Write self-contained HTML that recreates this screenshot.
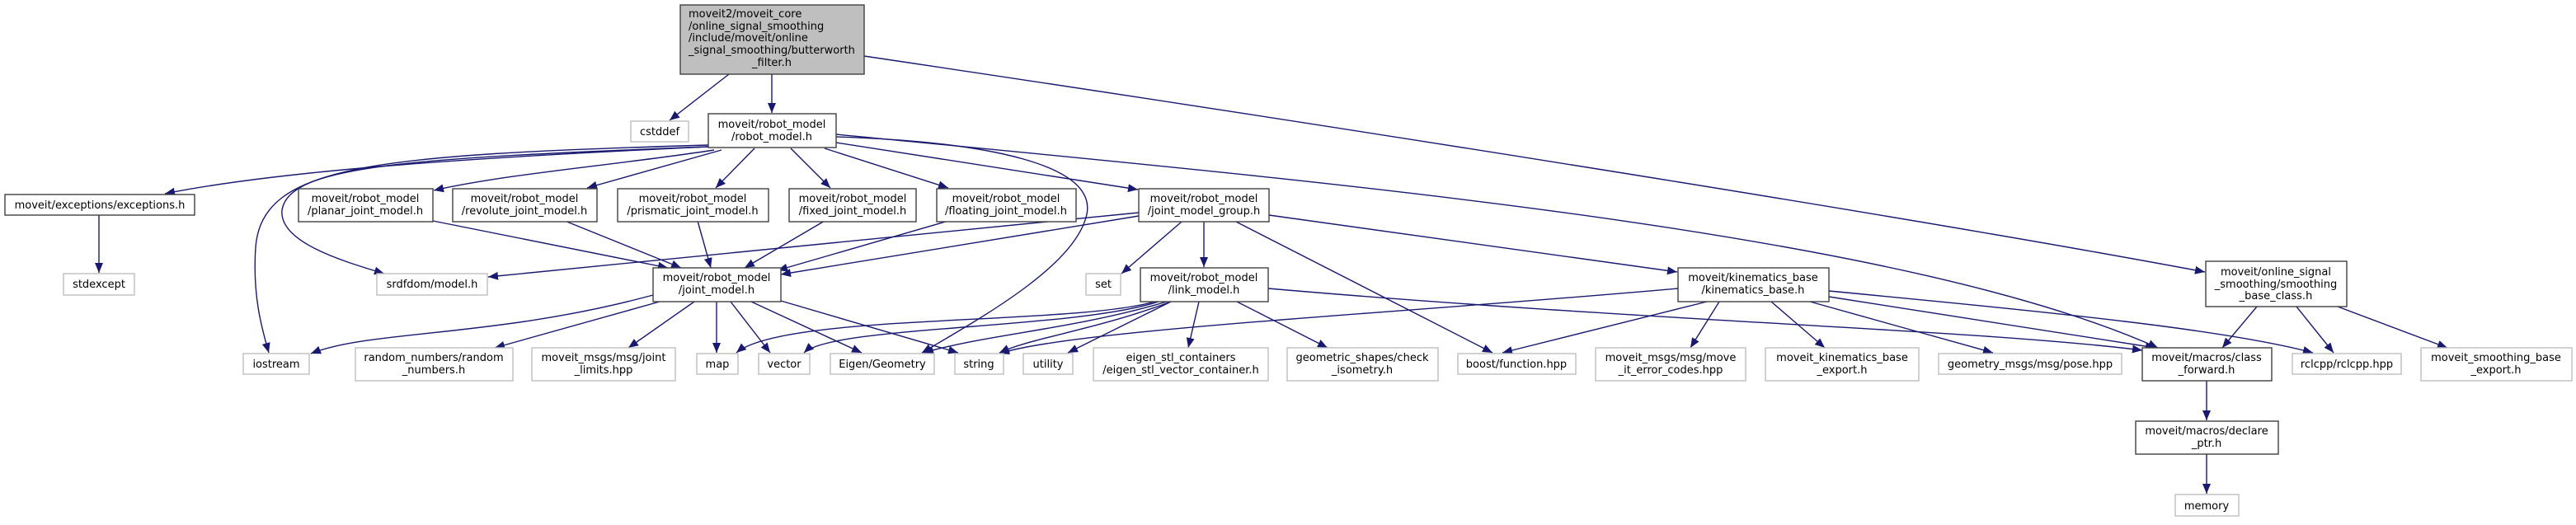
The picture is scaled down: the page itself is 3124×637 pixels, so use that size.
<!DOCTYPE html>
<html><head><meta charset="utf-8"><style>
html,body{margin:0;padding:0;background:#fff;}
svg text{font-family:"DejaVu Sans","Liberation Sans",sans-serif;font-size:13px;fill:#000;}
</style></head><body>
<svg width="3124" height="632" viewBox="0 0 3124 632" xmlns="http://www.w3.org/2000/svg">
<defs>
<marker id="a" markerUnits="userSpaceOnUse" markerWidth="14" markerHeight="12" refX="12" refY="5" orient="auto">
<path d="M0,0 L12,5 L0,10 Z" fill="#191970"/>
</marker>
</defs>
<g fill="none" stroke="#191970" stroke-width="1.4" marker-end="url(#a)">
<path d="M884,90 L812,146"/>
<path d="M936,90 L936,137"/>
<path d="M1048,68 C1600,150 2300,260 2674,330"/>
<path d="M859,178 C600,190 350,205 200,235"/>
<path d="M866,182 C750,200 620,210 526,231"/>
<path d="M875,182 L712,228"/>
<path d="M915,180 L868,228"/>
<path d="M959,180 L1007,228"/>
<path d="M1000,180 L1150,228"/>
<path d="M1014,173 L1380,230"/>
<path d="M859,178 C500,192 350,200 342,255 C338,295 420,318 466,332"/>
<path d="M859,176 C450,188 318,200 310,300 C306,360 318,400 326,428"/>
<path d="M1014,166 C1200,172 1330,200 1318,260 C1305,320 1200,380 1118,428"/>
<path d="M1014,163 C1600,220 2300,280 2617,422"/>
<path d="M120,261 L120,331"/>
<path d="M525,268 L810,325"/>
<path d="M685,268 L826,325"/>
<path d="M846,268 L862,325"/>
<path d="M1000,268 L903,325"/>
<path d="M1150,268 L943,328"/>
<path d="M1381,262 L947,333"/>
<path d="M1381,258 L592,336"/>
<path d="M1433,269 L1360,332"/>
<path d="M1460,269 L1460,324"/>
<path d="M1499,269 L1810,428"/>
<path d="M1539,261 L2034,330"/>
<path d="M792,358 C600,410 450,400 377,429"/>
<path d="M800,366 L600,422"/>
<path d="M842,366 L762,422"/>
<path d="M869,366 L869,428"/>
<path d="M886,366 L934,428"/>
<path d="M911,366 L1045,428"/>
<path d="M947,365 L1162,428"/>
<path d="M1400,366 C1300,395 950,380 893,428"/>
<path d="M1405,366 C1300,400 1010,395 975,428"/>
<path d="M1415,366 C1300,400 1200,405 1120,428"/>
<path d="M1420,366 C1330,400 1250,410 1212,428"/>
<path d="M1420,366 L1295,428"/>
<path d="M1454,366 L1441,422"/>
<path d="M1500,366 L1610,422"/>
<path d="M1538,350 C2000,390 2400,400 2598,425"/>
<path d="M2035,350 C1700,380 1300,400 1212,429"/>
<path d="M2070,366 L1822,428"/>
<path d="M2085,366 L2050,422"/>
<path d="M2148,366 L2213,422"/>
<path d="M2195,366 L2417,428"/>
<path d="M2218,360 L2614,422"/>
<path d="M2218,353 C2500,380 2700,400 2805,428"/>
<path d="M2737,372 L2695,422"/>
<path d="M2785,372 L2830,428"/>
<path d="M2835,372 L2968,422"/>
<path d="M2676,462 L2676,510"/>
<path d="M2676,551 L2676,599"/>
</g>
<g stroke-width="1.4">
<rect x="825" y="6" width="223" height="84" fill="#bfbfbf" stroke="#404040"/>
<g fill="#fff" stroke="#404040">
<rect x="859" y="138" width="155" height="41"/>
<rect x="6" y="236" width="230" height="25"/>
<rect x="362" y="229" width="163" height="40"/>
<rect x="549" y="229" width="175" height="40"/>
<rect x="749" y="229" width="183" height="40"/>
<rect x="957" y="229" width="154" height="40"/>
<rect x="1136" y="229" width="169" height="40"/>
<rect x="1381" y="229" width="158" height="40"/>
<rect x="2675" y="317" width="171" height="55"/>
<rect x="792" y="325" width="155" height="41"/>
<rect x="1383" y="325" width="155" height="41"/>
<rect x="2035" y="325" width="183" height="41"/>
<rect x="2598" y="422" width="157" height="40"/>
<rect x="2590" y="511" width="173" height="40"/>
</g>
<g fill="#fff" stroke="#bfbfbf">
<rect x="765" y="147" width="70" height="25"/>
<rect x="77" y="332" width="86" height="26"/>
<rect x="457" y="332" width="134" height="26"/>
<rect x="1317" y="332" width="42" height="26"/>
<rect x="295" y="429" width="80" height="25"/>
<rect x="431" y="422" width="191" height="40"/>
<rect x="645" y="422" width="174" height="40"/>
<rect x="845" y="429" width="50" height="25"/>
<rect x="920" y="429" width="62" height="25"/>
<rect x="1007" y="429" width="126" height="25"/>
<rect x="1158" y="429" width="59" height="25"/>
<rect x="1241" y="429" width="60" height="25"/>
<rect x="1326" y="422" width="212" height="40"/>
<rect x="1561" y="422" width="183" height="40"/>
<rect x="1768" y="429" width="143" height="25"/>
<rect x="1935" y="422" width="182" height="40"/>
<rect x="2141" y="422" width="186" height="40"/>
<rect x="2351" y="429" width="222" height="25"/>
<rect x="2780" y="429" width="132" height="25"/>
<rect x="2936" y="422" width="183" height="40"/>
<rect x="2638" y="600" width="77" height="26"/>
</g>
</g>
<text x="835" y="21">moveit2/moveit_core</text>
<text x="835" y="36">/online_signal_smoothing</text>
<text x="835" y="50">/include/moveit/online</text>
<text x="835" y="65">_signal_smoothing/butterworth</text>
<text x="936" y="80" text-anchor="middle">_filter.h</text>
<g text-anchor="middle">
<text x="800" y="164">cstddef</text>
<text x="936" y="155">moveit/robot_model</text>
<text x="936" y="170">/robot_model.h</text>
<text x="121" y="253">moveit/exceptions/exceptions.h</text>
<text x="443" y="245">moveit/robot_model</text><text x="443" y="260">/planar_joint_model.h</text>
<text x="636" y="245">moveit/robot_model</text><text x="636" y="260">/revolute_joint_model.h</text>
<text x="840" y="245">moveit/robot_model</text><text x="840" y="260">/prismatic_joint_model.h</text>
<text x="1034" y="245">moveit/robot_model</text><text x="1034" y="260">/fixed_joint_model.h</text>
<text x="1220" y="245">moveit/robot_model</text><text x="1220" y="260">/floating_joint_model.h</text>
<text x="1460" y="245">moveit/robot_model</text><text x="1460" y="260">/joint_model_group.h</text>
<text x="2760" y="334">moveit/online_signal</text><text x="2760" y="349">_smoothing/smoothing</text><text x="2760" y="363">_base_class.h</text>
<text x="120" y="349">stdexcept</text>
<text x="524" y="349">srdfdom/model.h</text>
<text x="869" y="341">moveit/robot_model</text><text x="869" y="356">/joint_model.h</text>
<text x="1338" y="349">set</text>
<text x="1460" y="341">moveit/robot_model</text><text x="1460" y="356">/link_model.h</text>
<text x="2126" y="341">moveit/kinematics_base</text><text x="2126" y="356">/kinematics_base.h</text>
<text x="335" y="446">iostream</text>
<text x="526" y="438">random_numbers/random</text><text x="526" y="453">_numbers.h</text>
<text x="732" y="438">moveit_msgs/msg/joint</text><text x="732" y="453">_limits.hpp</text>
<text x="870" y="446">map</text>
<text x="951" y="446">vector</text>
<text x="1070" y="446">Eigen/Geometry</text>
<text x="1187" y="446">string</text>
<text x="1271" y="446">utility</text>
<text x="1432" y="438">eigen_stl_containers</text><text x="1432" y="453">/eigen_stl_vector_container.h</text>
<text x="1652" y="438">geometric_shapes/check</text><text x="1652" y="453">_isometry.h</text>
<text x="1839" y="446">boost/function.hpp</text>
<text x="2026" y="438">moveit_msgs/msg/move</text><text x="2026" y="453">_it_error_codes.hpp</text>
<text x="2234" y="438">moveit_kinematics_base</text><text x="2234" y="453">_export.h</text>
<text x="2462" y="446">geometry_msgs/msg/pose.hpp</text>
<text x="2676" y="438">moveit/macros/class</text><text x="2676" y="453">_forward.h</text>
<text x="2846" y="446">rclcpp/rclcpp.hpp</text>
<text x="3027" y="438">moveit_smoothing_base</text><text x="3027" y="453">_export.h</text>
<text x="2676" y="527">moveit/macros/declare</text><text x="2676" y="542">_ptr.h</text>
<text x="2676" y="618">memory</text>
</g>
</svg>
</body></html>
